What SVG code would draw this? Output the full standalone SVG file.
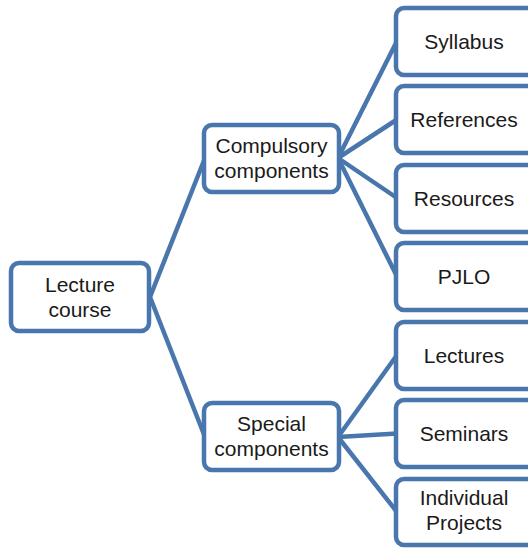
<svg xmlns="http://www.w3.org/2000/svg" width="528" height="548" viewBox="0 0 528 548">
<style>
.box{fill:#fff;stroke:#4A76AE;stroke-width:4.5}
.t{font-family:"Liberation Sans",Arial,sans-serif;font-size:21px;fill:#1a1a1a;text-anchor:middle}
.c{stroke:#4A76AE;stroke-width:4.5;fill:none}
</style>
<rect width="528" height="548" fill="#fff"/>
<g id="connectors">
<line class="c" x1="150" y1="297" x2="205" y2="158"/>
<line class="c" x1="150" y1="297" x2="205" y2="437"/>
<line class="c" x1="338" y1="158" x2="397" y2="41"/>
<line class="c" x1="338" y1="158" x2="397" y2="119.5"/>
<line class="c" x1="338" y1="158" x2="397" y2="198"/>
<line class="c" x1="338" y1="158" x2="397" y2="276.5"/>
<line class="c" x1="338" y1="437" x2="397" y2="355"/>
<line class="c" x1="338" y1="437" x2="397" y2="433.5"/>
<line class="c" x1="338" y1="437" x2="397" y2="512"/>
</g>
<g id="lecture"><rect class="box" x="11" y="263" width="138" height="68" rx="8"/><text class="t" x="80" y="292">Lecture</text><text class="t" x="80" y="317">course</text></g>
<g id="compulsory"><rect class="box" x="204" y="125" width="135" height="67" rx="8"/><text class="t" x="271.5" y="153">Compulsory</text><text class="t" x="271.5" y="178">components</text></g>
<g id="special"><rect class="box" x="204" y="403" width="135" height="67" rx="8"/><text class="t" x="271.5" y="431">Special</text><text class="t" x="271.5" y="456">components</text></g>
<g id="syllabus"><rect class="box" x="396" y="8" width="140" height="67" rx="8"/><text class="t" x="464" y="48.5">Syllabus</text></g>
<g id="references"><rect class="box" x="396" y="86" width="140" height="67" rx="8"/><text class="t" x="464" y="127">References</text></g>
<g id="resources"><rect class="box" x="396" y="165" width="140" height="67" rx="8"/><text class="t" x="464" y="205.5">Resources</text></g>
<g id="pjlo"><rect class="box" x="396" y="243" width="140" height="67" rx="8"/><text class="t" x="464" y="284">PJLO</text></g>
<g id="lectures"><rect class="box" x="396" y="322" width="140" height="67" rx="8"/><text class="t" x="464" y="362.5">Lectures</text></g>
<g id="seminars"><rect class="box" x="396" y="400" width="140" height="67" rx="8"/><text class="t" x="464" y="441">Seminars</text></g>
<g id="individual"><rect class="box" x="396" y="479" width="140" height="66" rx="8"/><text class="t" x="464" y="505">Individual</text><text class="t" x="464" y="530">Projects</text></g>
</svg>
